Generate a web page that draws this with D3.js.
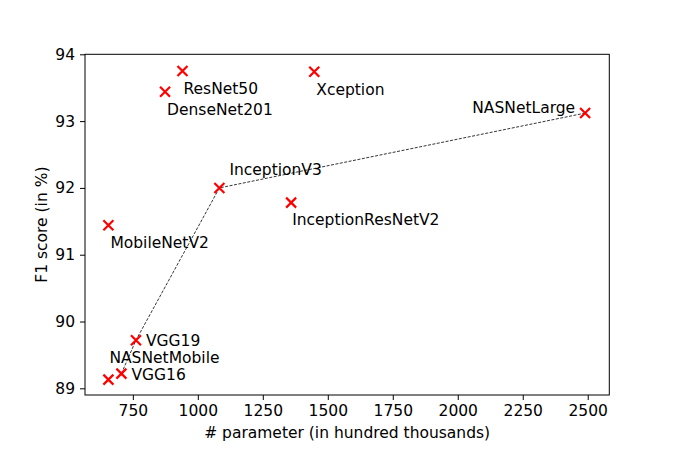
<!DOCTYPE html>
<html>
<head>
<meta charset="utf-8">
<script src="https://cdn.jsdelivr.net/npm/d3@7"></script>
<style>
  body { margin: 0; background: #fff; }
  svg text { font-family: "DejaVu Sans", sans-serif; fill: #000; }
</style>
</head>
<body>
<svg id="chart"></svg>
<script>
// Data
const models = ["ResNet50", "DenseNet201", "Xception", "NASNetLarge", "InceptionV3",
  "InceptionResNetV2", "MobileNetV2", "VGG19", "VGG16", "NASNetMobile"];
const params = [941, 874, 1448, 2490, 1083, 1359, 656, 762, 706, 656];
const f1 = [93.75, 93.44, 93.74, 93.12, 92.0, 91.78, 91.44, 89.72, 89.22, 89.13];
// models joined by the dashed front line
const front = ["VGG16", "VGG19", "InceptionV3", "NASNetLarge"];
const xTicks = [750, 1000, 1250, 1500, 1750, 2000, 2250, 2500];
const yTicks = [89, 90, 91, 92, 93, 94];

// label placement (pixels from the marker)
const labelPos = {
  ResNet50: [1, 18, "start"],
  DenseNet201: [2, 18, "start"],
  Xception: [2, 18, "start"],
  NASNetLarge: [-10, -5, "end"],
  InceptionV3: [10, -18, "start"],
  InceptionResNetV2: [1, 17, "start"],
  MobileNetV2: [2, 18, "start"],
  VGG19: [10, 1, "start"],
  VGG16: [10, 1, "start"],
  NASNetMobile: [1, -22, "start"]
};

const width = 677, height = 452;
const margin = { top: 54.3, right: 67.7, bottom: 57, left: 85 };
const fs = "15.5px";

const svg = d3.select("#chart").attr("width", width).attr("height", height);

const x = d3.scaleLinear()
  .domain([566, 2583])
  .range([margin.left, width - margin.right]);

const y = d3.scaleLinear()
  .domain([88.9, 94.0])
  .range([height - margin.bottom, margin.top]);

const data = models.map((m, i) => ({ name: m, x: params[i], y: f1[i] }));

// Axes
const xAxis = svg.append("g")
  .attr("transform", `translate(0,${height - margin.bottom})`)
  .call(d3.axisBottom(x).tickValues(xTicks).tickSize(5).tickPadding(5).tickFormat(d3.format("d")));
xAxis.select(".domain").remove();
xAxis.selectAll("text").style("font-size", fs);
xAxis.selectAll("line").attr("stroke-width", 1);

const yAxis = svg.append("g")
  .attr("transform", `translate(${margin.left},0)`)
  .call(d3.axisLeft(y).tickValues(yTicks).tickSize(5).tickPadding(5).tickFormat(d3.format("d")));
yAxis.select(".domain").remove();
yAxis.selectAll("text").style("font-size", fs);
yAxis.selectAll("line").attr("stroke-width", 1);

// Frame
svg.append("rect")
  .attr("x", margin.left)
  .attr("y", margin.top)
  .attr("width", width - margin.left - margin.right)
  .attr("height", height - margin.top - margin.bottom)
  .attr("fill", "none")
  .attr("stroke", "#000")
  .attr("stroke-width", 1);

// Dashed front
const frontData = front.map(n => data.find(d => d.name === n));
svg.append("path")
  .datum(frontData)
  .attr("fill", "none")
  .attr("stroke", "#000")
  .attr("stroke-width", 0.8)
  .attr("stroke-dasharray", "3,1.5")
  .attr("d", d3.line().x(d => x(d.x)).y(d => y(d.y)));

// Markers
const s = 5;
const marks = svg.append("g")
  .selectAll("g")
  .data(data)
  .enter()
  .append("g")
  .attr("transform", d => `translate(${x(d.x)},${y(d.y)})`);
marks.append("path")
  .attr("d", `M${-s},${-s}L${s},${s}M${-s},${s}L${s},${-s}`)
  .attr("stroke", "#ff0000")
  .attr("stroke-width", 2.2)
  .attr("fill", "none");

// Labels
svg.append("g")
  .selectAll("text")
  .data(data)
  .enter()
  .append("text")
  .attr("x", d => x(d.x) + labelPos[d.name][0])
  .attr("y", d => y(d.y) + labelPos[d.name][1])
  .attr("text-anchor", d => labelPos[d.name][2])
  .attr("dominant-baseline", "central")
  .style("font-size", fs)
  .text(d => d.name);

// Axis labels
svg.append("text")
  .attr("x", (margin.left + width - margin.right) / 2)
  .attr("y", 433)
  .attr("text-anchor", "middle")
  .attr("dominant-baseline", "central")
  .style("font-size", fs)
  .text("# parameter (in hundred thousands)");

svg.append("text")
  .attr("transform", `translate(42,${(margin.top + height - margin.bottom) / 2}) rotate(-90)`)
  .attr("text-anchor", "middle")
  .attr("dominant-baseline", "central")
  .style("font-size", fs)
  .text("F1 score (in %)");
</script>
</body>
</html>
